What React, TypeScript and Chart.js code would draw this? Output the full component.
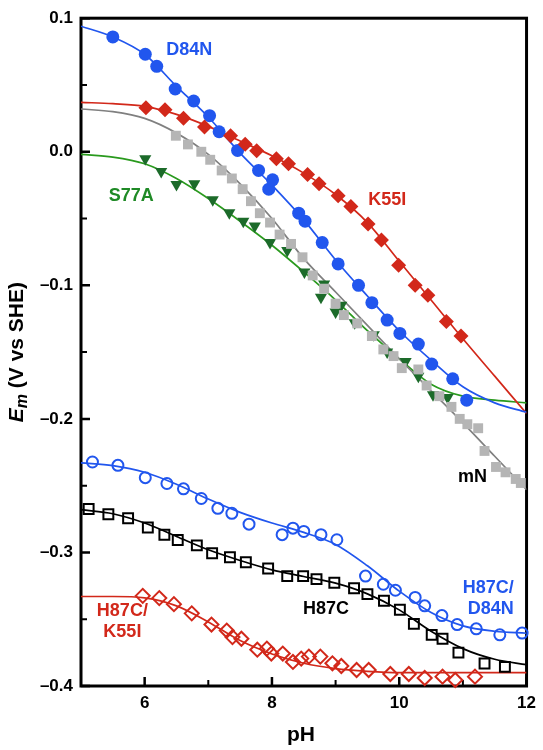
import React, { useEffect, useRef } from "react";
import { Chart, registerables } from "chart.js";

Chart.register(...registerables);

// ---------- data ----------
const d84nX = [5.50, 6.01, 6.19, 6.48, 6.77, 7.02, 7.17, 7.46, 7.79, 7.95, 8.01, 8.42, 8.52, 8.79, 9.04, 9.36, 9.57, 9.81, 10.01, 10.30, 10.51, 10.84, 11.06];
const d84nY = [0.086, 0.073, 0.064, 0.047, 0.038, 0.027, 0.015, 0.001, -0.014, -0.028, -0.021, -0.046, -0.052, -0.068, -0.084, -0.100, -0.113, -0.126, -0.136, -0.144, -0.159, -0.170, -0.186];

const k55iX = [6.02, 6.32, 6.61, 6.94, 7.35, 7.58, 7.76, 8.07, 8.26, 8.56, 8.74, 9.04, 9.24, 9.51, 9.72, 9.99, 10.25, 10.45, 10.74, 10.97];
const k55iY = [0.033, 0.0315, 0.025, 0.0186, 0.012, 0.0056, 0.0008, -0.0053, -0.009, -0.017, -0.024, -0.033, -0.041, -0.054, -0.066, -0.085, -0.100, -0.1075, -0.127, -0.138];

const mnX = [6.49, 6.68, 6.89, 7.03, 7.21, 7.37, 7.54, 7.67, 7.81, 7.97, 8.12, 8.30, 8.48, 8.64, 8.82, 9.00, 9.13, 9.34, 9.57, 9.75, 9.91, 10.04, 10.30, 10.43, 10.63, 10.82, 10.95, 11.07, 11.24, 11.34, 11.52, 11.67, 11.83, 11.91];
const mnY = [0.012, 0.0055, 0.000, -0.006, -0.014, -0.020, -0.028, -0.037, -0.046, -0.053, -0.062, -0.069, -0.079, -0.0926, -0.1025, -0.1137, -0.1223, -0.1285, -0.138, -0.148, -0.153, -0.162, -0.163, -0.175, -0.183, -0.191, -0.200, -0.204, -0.207, -0.224, -0.236, -0.240, -0.245, -0.248];

const s77aX = [6.01, 6.26, 6.50, 6.78, 7.07, 7.33, 7.55, 7.73, 7.97, 8.24, 8.51, 8.77, 8.82, 9.00, 9.09, 9.30, 9.60, 9.81, 10.10, 10.30, 10.53, 10.76];
const s77aY = [-0.0053, -0.0147, -0.0246, -0.024, -0.036, -0.0456, -0.052, -0.0556, -0.068, -0.074, -0.090, -0.109, -0.099, -0.120, -0.115, -0.128, -0.137, -0.150, -0.157, -0.168, -0.182, -0.184];

const h87cd84nX = [5.18, 5.58, 6.01, 6.35, 6.61, 6.89, 7.15, 7.37, 7.64, 8.16, 8.33, 8.50, 8.77, 9.02, 9.47, 9.75, 9.94, 10.25, 10.40, 10.67, 10.91, 11.21, 11.58, 11.93];
const h87cd84nY = [-0.2323, -0.2348, -0.244, -0.2484, -0.2524, -0.2596, -0.267, -0.2707, -0.2788, -0.2867, -0.2818, -0.2843, -0.2867, -0.2905, -0.3177, -0.3238, -0.3283, -0.3337, -0.340, -0.3473, -0.354, -0.3572, -0.3617, -0.3604];

const h87cX = [5.12, 5.43, 5.74, 6.05, 6.31, 6.52, 6.82, 7.06, 7.34, 7.59, 7.94, 8.24, 8.49, 8.70, 8.98, 9.29, 9.50, 9.76, 10.01, 10.23, 10.51, 10.68, 10.93, 11.34, 11.66];
const h87cY = [-0.2675, -0.2714, -0.2744, -0.2813, -0.2867, -0.2907, -0.2947, -0.3006, -0.3036, -0.3073, -0.312, -0.3177, -0.3177, -0.320, -0.3227, -0.3268, -0.3312, -0.3362, -0.3429, -0.3535, -0.3617, -0.3646, -0.375, -0.3832, -0.3857];

const h87ck55iX = [5.97, 6.23, 6.46, 6.74, 7.05, 7.29, 7.38, 7.52, 7.77, 7.92, 7.99, 8.17, 8.33, 8.46, 8.58, 8.76, 8.95, 9.09, 9.33, 9.52, 9.86, 10.15, 10.40, 10.68, 10.88, 11.19];
const h87ck55iY = [-0.3325, -0.3342, -0.3387, -0.3456, -0.354, -0.3585, -0.3634, -0.3646, -0.3728, -0.372, -0.3757, -0.3757, -0.382, -0.3795, -0.378, -0.378, -0.383, -0.385, -0.388, -0.388, -0.391, -0.391, -0.394, -0.393, -0.3955, -0.393];

// fitted curves, read at these pH values
const curveX = [5, 5.5, 6, 6.5, 7, 7.5, 8, 8.5, 9, 9.5, 10, 10.5, 11, 11.5, 12];
const d84nCurve = [0.094, 0.086, 0.073, 0.049, 0.026, -0.001, -0.025, -0.051, -0.081, -0.108, -0.134, -0.156, -0.176, -0.188, -0.195];
const k55iCurve = [0.037, 0.036, 0.034, 0.028, 0.019, 0.008, -0.003, -0.016, -0.032, -0.053, -0.082, -0.111, -0.140, -0.168, -0.196];
const mnCurve = [0.032, 0.030, 0.025, 0.014, -0.002, -0.024, -0.050, -0.080, -0.105, -0.130, -0.155, -0.179, -0.203, -0.228, -0.253];
const s77aCurve = [-0.002, -0.004, -0.009, -0.020, -0.035, -0.052, -0.070, -0.090, -0.111, -0.134, -0.155, -0.174, -0.183, -0.186, -0.188];
const h87cd84nCurve = [-0.233, -0.235, -0.240, -0.249, -0.260, -0.270, -0.278, -0.285, -0.294, -0.310, -0.329, -0.345, -0.355, -0.359, -0.3605];
const h87cCurve = [-0.268, -0.271, -0.278, -0.288, -0.298, -0.306, -0.313, -0.318, -0.323, -0.331, -0.343, -0.359, -0.372, -0.380, -0.384];
const h87ck55iCurve = [-0.333, -0.333, -0.334, -0.340, -0.352, -0.366, -0.376, -0.383, -0.387, -0.389, -0.390, -0.390, -0.390, -0.390, -0.390];

// axes
const xMin = 5, xMax = 12;
const yMin = -0.4, yMax = 0.1;
const xTicks = [6, 8, 10, 12];
const xTickLabels = ["6", "8", "10", "12"];
const xMinorTicks = [7, 9, 11];
const yTicks = [0.1, 0.0, -0.1, -0.2, -0.3, -0.4];
const yTickLabels = ["0.1", "0.0", "\u20130.1", "\u20130.2", "\u20130.3", "\u20130.4"];
const yMinorTicks = [0.05, -0.05, -0.15, -0.25, -0.35];

// series labels
const seriesLabels = [
  { lines: ["D84N"], x: 6.70, y: 0.0763, color: "#2156ee", align: "center" },
  { lines: ["S77A"], x: 5.79, y: -0.0333, color: "#1f8a26", align: "center" },
  { lines: ["K55I"], x: 9.81, y: -0.0358, color: "#d2281a", align: "center" },
  { lines: ["mN"], x: 11.15, y: -0.2434, color: "#000000", align: "center" },
  { lines: ["H87C"], x: 8.85, y: -0.3424, color: "#000000", align: "center" },
  { lines: ["H87C/", "D84N"], x: 11.80, y: -0.3266, color: "#2156ee", align: "right" },
  { lines: ["H87C/", "K55I"], x: 5.65, y: -0.3436, color: "#d2281a", align: "center" },
];

const FONT = '"Liberation Sans", Arial, Helvetica, sans-serif';
const BLUE = "#2156ee";
const RED = "#d2281a";
const GREEN_LINE = "#2a9a1e";
const GREEN_PT = "#1c6b2a";
const GRAY_PT = "#b5b5b5";
const GRAY_LINE = "#808080";

const zip = (xs: number[], ys: number[]) => xs.map((x, i) => ({ x, y: ys[i] }));

const curve = (ys: number[], color: string) => ({
  data: zip(curveX, ys),
  showLine: true,
  borderColor: color,
  borderWidth: 1.7,
  pointRadius: 0,
  cubicInterpolationMode: "monotone" as const,
  order: 2,
});

const pts = (xs: number[], ys: number[], opts: any) => ({
  data: zip(xs, ys),
  showLine: false,
  order: 1,
  clip: false as const,
  ...opts,
});

const decorPlugin = {
  id: "decor",
  beforeDatasetsDraw(chart: any) {
    const { ctx, chartArea: a, scales } = chart;
    const xs = scales.x, ys = scales.y;
    ctx.save();
    ctx.strokeStyle = "#000";
    ctx.lineWidth = 3;
    ctx.strokeRect(a.left, a.top, a.right - a.left, a.bottom - a.top);
    ctx.lineWidth = 2.5;
    ctx.beginPath();
    for (const v of xTicks) {
      const p = xs.getPixelForValue(v);
      ctx.moveTo(p, a.bottom);
      ctx.lineTo(p, a.bottom - 9);
    }
    for (const v of yTicks) {
      const p = ys.getPixelForValue(v);
      ctx.moveTo(a.left, p);
      ctx.lineTo(a.left + 9, p);
    }
    ctx.stroke();
    ctx.lineWidth = 2;
    ctx.beginPath();
    for (const v of xMinorTicks) {
      const p = xs.getPixelForValue(v);
      ctx.moveTo(p, a.bottom);
      ctx.lineTo(p, a.bottom - 6);
    }
    for (const v of yMinorTicks) {
      const p = ys.getPixelForValue(v);
      ctx.moveTo(a.left, p);
      ctx.lineTo(a.left + 6, p);
    }
    ctx.stroke();
    ctx.restore();
  },
  afterDatasetsDraw(chart: any) {
    const { ctx, chartArea: a, scales } = chart;
    const xs = scales.x, ys = scales.y;
    ctx.save();
    // series labels
    ctx.font = `bold 18px ${FONT}`;
    ctx.textBaseline = "middle";
    for (const l of seriesLabels) {
      ctx.fillStyle = l.color;
      ctx.textAlign = l.align as CanvasTextAlign;
      const px = xs.getPixelForValue(l.x);
      const py = ys.getPixelForValue(l.y);
      l.lines.forEach((t, i) => ctx.fillText(t, px, py + i * 21));
    }
    // x title
    ctx.fillStyle = "#000";
    ctx.textAlign = "center";
    ctx.font = `bold 21px ${FONT}`;
    ctx.fillText("pH", 301, 735);
    // y title: E_m (V vs SHE)
    ctx.translate(15, (a.top + a.bottom) / 2);
    ctx.rotate(-Math.PI / 2);
    ctx.textBaseline = "alphabetic";
    ctx.textAlign = "left";
    const f1 = `italic bold 21px ${FONT}`;
    const f2 = `italic bold 16px ${FONT}`;
    const f3 = `bold 21px ${FONT}`;
    ctx.font = f1; const w1 = ctx.measureText("E").width;
    ctx.font = f2; const w2 = ctx.measureText("m").width;
    ctx.font = f3; const w3 = ctx.measureText(" (V vs SHE)").width;
    const start = -(w1 + w2 + w3) / 2;
    const base = 7.5;
    ctx.font = f1; ctx.fillText("E", start, base);
    ctx.font = f2; ctx.fillText("m", start + w1, base + 4);
    ctx.font = f3; ctx.fillText(" (V vs SHE)", start + w1 + w2, base);
    ctx.restore();
  },
};

export default function App() {
  const canvasRef = useRef<HTMLCanvasElement | null>(null);

  useEffect(() => {
    if (!canvasRef.current) return;
    const datasets: any[] = [
      curve(d84nCurve, BLUE),
      curve(k55iCurve, RED),
      curve(mnCurve, GRAY_LINE),
      curve(s77aCurve, GREEN_LINE),
      curve(h87cd84nCurve, BLUE),
      curve(h87cCurve, "#000000"),
      curve(h87ck55iCurve, RED),
      pts(mnX, mnY, { pointStyle: "rect", pointRadius: 7, backgroundColor: GRAY_PT, borderColor: GRAY_PT, borderWidth: 0 }),
      pts(s77aX, s77aY, { pointStyle: "triangle", rotation: 180, pointRadius: 7, backgroundColor: GREEN_PT, borderColor: GREEN_PT, borderWidth: 0 }),
      pts(k55iX, k55iY, { pointStyle: "rectRot", pointRadius: 7.5, backgroundColor: RED, borderColor: RED, borderWidth: 0 }),
      pts(d84nX, d84nY, { pointStyle: "circle", pointRadius: 6.5, backgroundColor: BLUE, borderColor: BLUE, borderWidth: 0 }),
      pts(h87cd84nX, h87cd84nY, { pointStyle: "circle", pointRadius: 5.5, backgroundColor: "rgba(0,0,0,0)", borderColor: BLUE, borderWidth: 2 }),
      pts(h87cX, h87cY, { pointStyle: "rect", pointRadius: 7, backgroundColor: "rgba(0,0,0,0)", borderColor: "#000000", borderWidth: 2 }),
      pts(h87ck55iX, h87ck55iY, { pointStyle: "rectRot", pointRadius: 7, backgroundColor: "rgba(0,0,0,0)", borderColor: RED, borderWidth: 2 }),
    ];

    const chart = new Chart(canvasRef.current, {
      type: "scatter",
      data: { datasets },
      options: {
        animation: false,
        responsive: false,
        devicePixelRatio: 1,
        layout: { padding: { left: 0, top: 12, right: 12, bottom: 0 } },
        plugins: { legend: { display: false }, tooltip: { enabled: false } },
        scales: {
          x: {
            type: "linear",
            min: xMin,
            max: xMax,
            grid: { display: false, drawTicks: false },
            border: { display: false },
            afterBuildTicks: (s: any) => { s.ticks = xTicks.map((v) => ({ value: v })); },
            afterFit: (s: any) => { s.height = 64; },
            ticks: {
              padding: 7,
              color: "#000",
              font: { family: FONT, size: 17, weight: "bold" },
              maxRotation: 0,
              callback: (v: any) => {
                const i = xTicks.findIndex((t) => Math.abs(t - Number(v)) < 1e-6);
                return i >= 0 ? xTickLabels[i] : "";
              },
            },
          },
          y: {
            type: "linear",
            min: yMin,
            max: yMax,
            grid: { display: false, drawTicks: false },
            border: { display: false },
            afterBuildTicks: (s: any) => { s.ticks = [...yTicks].reverse().map((v) => ({ value: v })); },
            afterFit: (s: any) => { s.width = 81; },
            ticks: {
              padding: 8,
              color: "#000",
              font: { family: FONT, size: 17, weight: "bold" },
              callback: (v: any) => {
                const i = yTicks.findIndex((t) => Math.abs(t - Number(v)) < 1e-6);
                return i >= 0 ? yTickLabels[i] : "";
              },
            },
          },
        },
      },
      plugins: [decorPlugin],
    });
    return () => chart.destroy();
  }, []);

  return (
    <div style={{ position: "absolute", left: 0, top: 0, width: 543, height: 750, background: "#fff" }}>
      <canvas ref={canvasRef} width={543} height={750} style={{ display: "block", width: 543, height: 750 }} />
    </div>
  );
}
